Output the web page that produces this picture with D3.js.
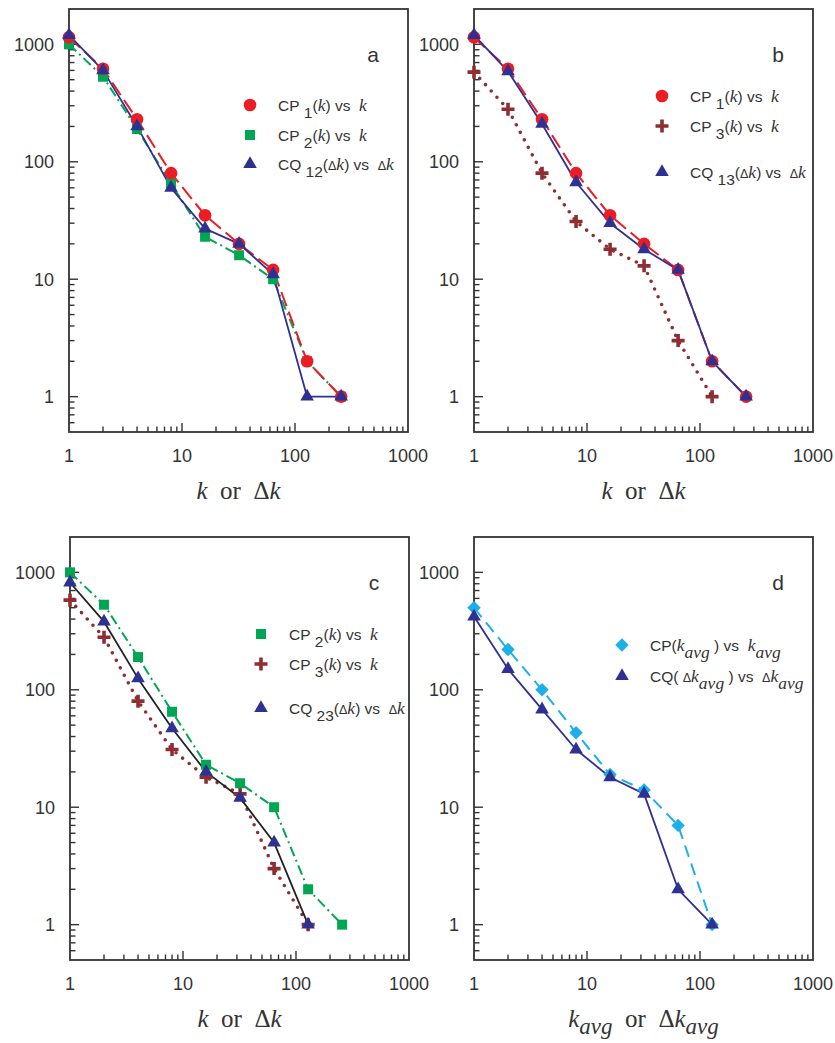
<!DOCTYPE html>
<html>
<head>
<meta charset="utf-8">
<script src="https://cdn.jsdelivr.net/npm/d3@7"></script>
<style>
  body { margin: 0; background: #fff; }
  svg text { font-family: 'Liberation Sans', Arial, sans-serif; fill: #333; }
</style>
</head>
<body>
<div id="chart"></div>
<script>
/* Data */
const kVals = [1, 2, 4, 8, 16, 32, 64, 128, 256];
const cp1 = [1150, 620, 230, 80, 35, 20, 12, 2, 1];
const cp2 = [1000, 530, 190, 65, 23, 16, 10, 2, 1];
const cp3 = [580, 280, 80, 31, 18, 13, 3, 1];
const cq12 = [1200, 600, 200, 60, 27, 20, 11, 1, 1];
const cq13 = [1200, 590, 210, 67, 30, 18, 12, 2, 1];
const cq23 = [820, 380, 125, 47, 20, 12, 5, 1];
const cpAvg = [500, 220, 100, 43, 19, 14, 7, 1];
const cqAvg = [420, 150, 68, 31, 18, 13, 2, 1];

const majorTicks = [1, 10, 100, 1000];

const width = 835;
const height = 1043;
const pw = 339;
const ph = 423;

const RED = '#ed1c24',
  GREEN = '#00a651',
  NAVY = '#2e3192',
  MAROON = '#8e2e32',
  SKY = '#1cb0ea',
  BLACK = '#222';

// line styles
const styles = {
  dashed: { dash: '15 6', w: 2 },
  dashdot: { dash: '10 4 2 4', w: 2 },
  dotted: { dash: '0 8.5', w: 3.6, cap: 'round' },
  solid: { dash: null, w: 1.8 },
  skydash: { dash: '12 7', w: 2 },
};

const series = (vals, color, marker, style, lineColor) => ({
  pts: vals.map((v, i) => [kVals[i], v]),
  color,
  marker,
  style,
  lineColor: lineColor || color,
});

const NB = '\u00a0';

// legend label pieces: [text, kind]   n = normal, s = subscript, i = italic serif, d = delta, si = italic subscript
const cpLabel = (n) => [['CP' + NB, 'n'], [n, 's'], ['(', 'n'], ['k', 'i'], [')' + NB + 'vs' + NB + NB, 'n'], ['k', 'i']];
const cqLabel = (n) => [['CQ' + NB, 'n'], [n, 's'], ['(', 'n'], ['Δ', 'd'], ['k', 'i'], [')' + NB + 'vs' + NB + NB, 'n'], ['Δ', 'd'], ['k', 'i']];

const panels = [
  {
    x0: 69, y0: 9, letter: 'a',
    series: [
      series(cp2, GREEN, 'square', 'dashdot'),
      series(cp1, RED, 'circle', 'dashed'),
      series(cq12, NAVY, 'triangle', 'solid'),
    ],
    legend: { x: 181, ys: [96, 126, 155] },
    labels: [cpLabel('1'), cpLabel('2'), cqLabel('12')],
    legendOrder: [1, 0, 2],
    title: 'k',
  },
  {
    x0: 474, y0: 9, letter: 'b',
    series: [
      series(cp3, MAROON, 'plus', 'dotted'),
      series(cp1, RED, 'circle', 'dashed'),
      series(cq13, NAVY, 'triangle', 'solid'),
    ],
    legend: { x: 188, ys: [87, 117, 163] },
    labels: [cpLabel('1'), cpLabel('3'), cqLabel('13')],
    legendOrder: [1, 0, 2],
    title: 'k',
  },
  {
    x0: 70, y0: 537, letter: 'c',
    series: [
      series(cp3, MAROON, 'plus', 'dotted'),
      series(cp2, GREEN, 'square', 'dashdot'),
      series(cq23, NAVY, 'triangle', 'solid', BLACK),
    ],
    legend: { x: 191, ys: [97, 127, 171] },
    labels: [cpLabel('2'), cpLabel('3'), cqLabel('23')],
    legendOrder: [1, 0, 2],
    title: 'k',
  },
  {
    x0: 474, y0: 537, letter: 'd',
    series: [
      series(cpAvg, SKY, 'diamond', 'skydash'),
      series(cqAvg, NAVY, 'triangle', 'solid'),
    ],
    legend: { x: 148, ys: [108, 139] },
    labels: [
      [['CP(', 'n'], ['k', 'i'], ['avg', 'si'], [NB + ')' + NB + 'vs' + NB + NB, 'n'], ['k', 'i'], ['avg', 'si']],
      [['CQ(' + NB, 'n'], ['Δ', 'd'], ['k', 'i'], ['avg', 'si'], [NB + ')' + NB + 'vs' + NB + NB, 'n'], ['Δ', 'd'], ['k', 'i'], ['avg', 'si']],
    ],
    legendOrder: [0, 1],
    title: 'kavg',
  },
];

const svg = d3
  .select('#chart')
  .append('svg')
  .attr('width', width)
  .attr('height', height);

const x = d3.scaleLog().domain([1, 1000]).range([0, pw]);
const y = d3.scaleLog().domain([0.5, 2000]).range([ph, 0]);

function drawMarker(g, type, color) {
  if (type === 'plus') {
    g.append('path')
      .attr('d', 'M-6.5,0H6.5M0,-6.5V6.5')
      .attr('stroke', color)
      .attr('stroke-width', 3.6)
      .attr('fill', 'none');
  } else if (type === 'diamond') {
    g.append('path')
      .attr('d', d3.symbol(d3.symbolSquare, 90)())
      .attr('transform', 'rotate(45)')
      .attr('fill', color);
  } else {
    const sym = {
      circle: [d3.symbolCircle, 125],
      square: [d3.symbolSquare, 100],
      triangle: [d3.symbolTriangle, 80],
    }[type];
    g.append('path').attr('d', d3.symbol(sym[0], sym[1])()).attr('fill', color);
  }
}

function addLabel(textSel, parts, size) {
  let shifted = 0;
  parts.forEach(([t, kind]) => {
    const ts = textSel.append('tspan').text(t);
    const sub = kind === 's' || kind === 'si';
    const want = sub ? 7 : 0;
    if (want !== shifted) {
      ts.attr('dy', want - shifted);
      shifted = want;
    }
    if (kind === 'i' || kind === 'si') {
      ts.style('font-family', "'Liberation Serif', 'Times New Roman', serif")
        .style('font-style', 'italic')
        .style('font-size', size + 2 + 'px');
    }
    if (kind === 'd') {
      ts.style('font-size', size - 3 + 'px');
    }
  });
}

panels.forEach((p) => {
  const g = svg.append('g').attr('transform', `translate(${p.x0},${p.y0})`);

  // frame
  g.append('rect')
    .attr('width', pw)
    .attr('height', ph)
    .attr('fill', 'none')
    .attr('stroke', '#333')
    .attr('stroke-width', 1.8);

  // minor + major ticks (inside)
  const xt = [];
  const yt = [];
  [1, 10, 100].forEach((dec) => {
    for (let m = 1; m <= 9; m++) xt.push(dec * m);
  });
  [0.1, 1, 10, 100].forEach((dec) => {
    for (let m = 1; m <= 9; m++) {
      const v = dec * m;
      if (v >= 0.6 && v <= 1000) yt.push(v);
    }
  });
  yt.push(1000);
  const isMajor = (v) => majorTicks.some((t) => Math.abs(t - v) < 1e-9);

  g.selectAll('line.xt')
    .data(xt.filter((v) => v > 1 && v < 1000))
    .join('line')
    .attr('x1', (d) => x(d))
    .attr('x2', (d) => x(d))
    .attr('y1', ph)
    .attr('y2', (d) => ph - (isMajor(d) ? 9 : 5.5))
    .attr('stroke', '#333')
    .attr('stroke-width', 1.4);

  g.selectAll('line.yt')
    .data(yt)
    .join('line')
    .attr('x1', 0)
    .attr('x2', (d) => (isMajor(d) ? 9 : 5.5))
    .attr('y1', (d) => y(d))
    .attr('y2', (d) => y(d))
    .attr('stroke', '#333')
    .attr('stroke-width', 1.4);

  // tick labels
  g.selectAll('text.xl')
    .data(majorTicks)
    .join('text')
    .attr('x', (d) => x(d))
    .attr('y', ph + 30)
    .attr('text-anchor', 'middle')
    .style('font-size', '18px')
    .text((d) => d);

  g.selectAll('text.yl')
    .data(majorTicks)
    .join('text')
    .attr('x', -15)
    .attr('y', (d) => y(d) + 6.5)
    .attr('text-anchor', 'end')
    .style('font-size', '18px')
    .text((d) => d);

  // panel letter
  g.append('text')
    .attr('x', pw - 35)
    .attr('y', 53)
    .attr('text-anchor', 'middle')
    .style('font-size', '21px')
    .text(p.letter);

  // series lines
  p.series.forEach((s) => {
    const st = styles[s.style];
    g.append('path')
      .datum(s.pts)
      .attr('d', d3.line().x((d) => x(d[0])).y((d) => y(d[1])))
      .attr('fill', 'none')
      .attr('stroke', s.lineColor)
      .attr('stroke-width', st.w)
      .attr('stroke-dasharray', st.dash)
      .attr('stroke-linecap', st.cap || 'butt')
      .attr('stroke-linejoin', 'round');
  });

  // markers
  p.series.forEach((s) => {
    s.pts.forEach((d) => {
      const mg = g.append('g').attr('transform', `translate(${x(d[0])},${y(d[1])})`);
      drawMarker(mg, s.marker, s.color);
    });
  });

  // legend
  p.legendOrder.forEach((si, i) => {
    const s = p.series[si];
    const ly = p.legend.ys[i];
    const mg = g.append('g').attr('transform', `translate(${p.legend.x},${ly})`);
    drawMarker(mg, s.marker, s.color);
    const t = g.append('text')
      .attr('x', p.legend.x + 28)
      .attr('y', ly + 5.5)
      .style('font-size', '15.5px');
    addLabel(t, p.labels[i], 15.5);
  });

  // axis title
  const tt = g.append('text')
    .attr('x', pw / 2)
    .attr('y', ph + 67)
    .attr('text-anchor', 'middle')
    .style('font-family', "'Liberation Serif', 'Times New Roman', serif")
    .style('font-size', '25px');
  const serifPart = (txt, italic, dy, size) => {
    const ts = tt.append('tspan').text(txt).style('font-family', "'Liberation Serif', 'Times New Roman', serif");
    if (italic) ts.style('font-style', 'italic');
    if (dy) ts.attr('dy', dy);
    if (size) ts.style('font-size', size + 'px');
    return ts;
  };
  if (p.title === 'k') {
    serifPart('k', true);
    serifPart(NB + ' or ' + NB, false);
    serifPart('Δ', false);
    serifPart('k', true);
  } else {
    serifPart('k', true);
    serifPart('avg', true, 7, 23);
    serifPart(NB + ' or ' + NB, false, -7);
    serifPart('Δ', false);
    serifPart('k', true);
    serifPart('avg', true, 7, 23);
  }
});
</script>
</body>
</html>
